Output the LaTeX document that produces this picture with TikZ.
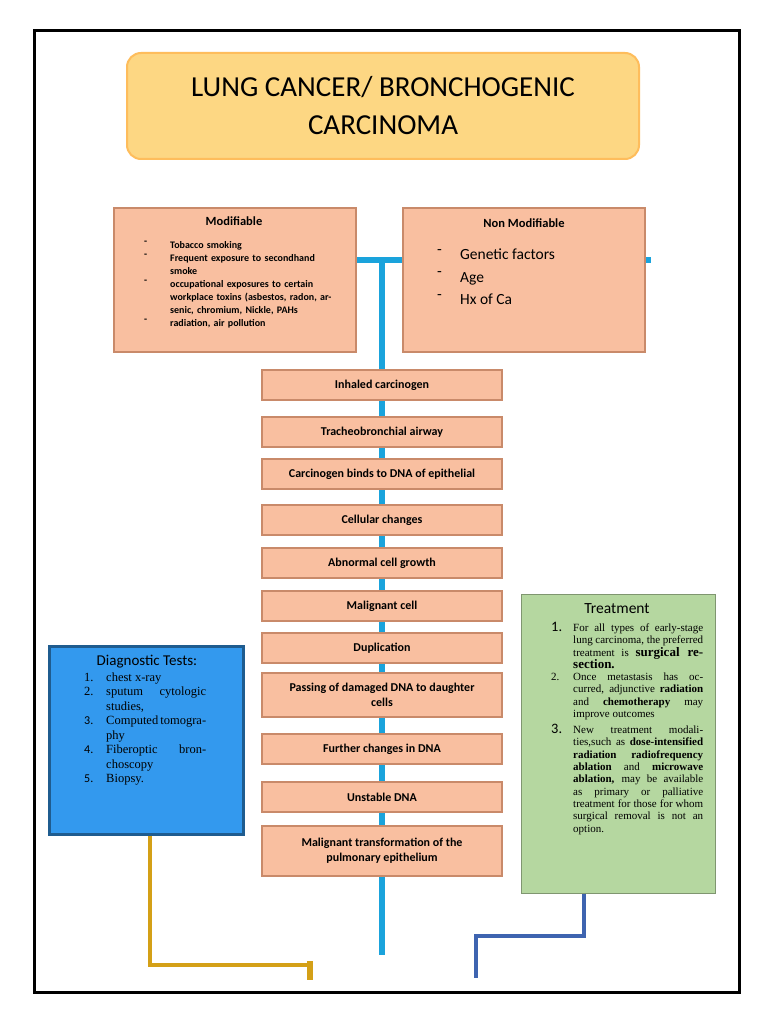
\documentclass[tikz,border=0pt]{standalone}
\usepackage{fontspec}
\setmainfont{Liberation Serif}
\newfontfamily\calfnt{Carlito}
\begin{document}
\begin{tikzpicture}[x=1pt,y=-1pt,
 chain/.style={draw=salmonD,line width=1.5pt,fill=salmon,minimum width=240pt,inner sep=2pt,align=center,font=\calfnt\bfseries\fontsize{12}{15}\selectfont},
 bigbox/.style={draw=salmonD,line width=2pt,fill=salmon},
 bline/.style={draw=lineblue,line width=6pt}]
\definecolor{salmon}{HTML}{F9BFA0}
\definecolor{salmonD}{HTML}{C98A6A}
\definecolor{lineblue}{HTML}{1AA3DC}
\definecolor{titlefill}{HTML}{FDD783}
\definecolor{diagblue}{HTML}{3399EE}
\definecolor{treatg}{HTML}{B5D7A0}
\definecolor{gold}{HTML}{D4A017}
\definecolor{dblue}{HTML}{3E64B0}
\useasboundingbox[fill=white] (0,0) rectangle (768,1024);
\draw[line width=3pt] (34,31) rectangle (739,992);
% spine lines
\coordinate (top) at (382,260);
\coordinate (bot) at (382,955);
\draw[bline] (356,260) -- (403,260);
\draw[bline] (645,260) -- (651,260);
\draw[bline] (top) -- (bot);
% title
\node[draw=titlefill!70!orange,line width=2pt,fill=titlefill,rounded corners=14pt,minimum width=512pt,minimum height=106pt,align=center,font=\calfnt\fontsize{29}{38}\selectfont] (title) at (383,106) {LUNG CANCER/ BRONCHOGENIC\\CARCINOMA};
% modifiable boxes
\node[bigbox,minimum width=242pt,minimum height=143pt] (mod) at (234.5,280) {};
\node[font=\calfnt\bfseries\fontsize{12.5}{14}\selectfont] (modt) at (234,221) {Modifiable};
\node[anchor=north west,align=left,font=\calfnt\bfseries\fontsize{10}{13}\selectfont,inner sep=0pt] (modl) at (144,241) {-\\-\\[13pt]-\\[26pt]-};
\node[anchor=north west,align=left,text width=170pt,font=\calfnt\bfseries\fontsize{10}{13}\selectfont,inner sep=0pt] (modx) at (170,241) {Tobacco smoking\\Frequent exposure to secondhand smoke\\occupational exposures to certain workplace toxins (asbestos, radon, arsenic, chromium, Nickle, PAHs\\radiation, air pollution};
\node[bigbox,minimum width=242pt,minimum height=143pt] (nmod) at (524,280) {};
\node[font=\calfnt\bfseries\fontsize{12.5}{14}\selectfont] (nmodt) at (524,223) {Non Modifiable};
\node[anchor=north west,align=left,font=\calfnt\fontsize{15.5}{22.5}\selectfont,inner sep=0pt] (nmodl) at (437,249) {-\\-\\-};
\node[anchor=north west,align=left,font=\calfnt\fontsize{15.5}{22.5}\selectfont,inner sep=0pt] (nmodx) at (460,249) {Genetic factors\\Age\\Hx of Ca};
% chain
\node[chain,minimum height=30pt] (c1) at (382,385) {Inhaled carcinogen};
\node[chain,minimum height=30pt] (c2) at (382,432) {Tracheobronchial airway};
\node[chain,minimum height=30pt] (c3) at (382,474) {Carcinogen binds to DNA of epithelial};
\node[chain,minimum height=30pt] (c4) at (382,520) {Cellular changes};
\node[chain,minimum height=30pt] (c5) at (382,563) {Abnormal cell growth};
\node[chain,minimum height=30pt] (c6) at (382,606) {Malignant cell};
\node[chain,minimum height=30pt] (c7) at (382,648) {Duplication};
\node[chain,minimum height=44pt] (c8) at (382,695) {Passing of damaged DNA to daughter\\cells};
\node[chain,minimum height=30pt] (c9) at (382,749) {Further changes in DNA};
\node[chain,minimum height=30pt] (c10) at (382,797) {Unstable DNA};
\node[chain,minimum height=50pt] (c11) at (382,851) {Malignant transformation of the\\pulmonary epithelium};
% diagnostic
\node[draw=diagblue!60!black,line width=3pt,fill=diagblue,minimum width=194pt,minimum height=188pt] (diag) at (146,740) {};
\node[font=\calfnt\fontsize{15}{17}\selectfont] (diagt) at (147,662) {Diagnostic Tests:};
\node[anchor=north west,align=left,font=\fontsize{12.5}{14.5}\selectfont,inner sep=0pt] (diagx) at (84,671)
{\begin{tabular}{@{}p{14pt}@{\hspace{8pt}}p{100pt}@{}}
1. & chest x-ray\\
2. & sputum cytologic studies,\\
{\calfnt\large 3.} & Computed tomography\\
{\calfnt\large 4.} & Fiberoptic bronchoscopy\\
{\calfnt\large 5.} & Biopsy.
\end{tabular}};
% treatment
\node[draw=treatg!70!black,line width=1pt,fill=treatg,minimum width=194pt,minimum height=299pt] (treat) at (618,743.5) {};
\node[font=\calfnt\fontsize{15.5}{17}\selectfont] (treatt) at (617,609) {Treatment};
\node[anchor=north west,align=left,font=\fontsize{11}{12.3}\selectfont,inner sep=0pt] (treatx) at (551,622)
{\begin{tabular}{@{}p{14pt}@{\hspace{8pt}}p{130pt}@{}}
{\calfnt\Large 1.} & For all types of early-stage lung carcinoma, the preferred treatment is {\fontsize{13}{15}\selectfont\bfseries surgical resection.}\\
2. & Once metastasis has occurred, adjunctive \textbf{radiation} and \textbf{chemotherapy} may improve outcomes\\[3pt]
{\calfnt\Large 3.} & New treatment modalities,such as \textbf{dose-intensified radiation radiofrequency ablation} and \textbf{microwave ablation,} may be available as primary or palliative treatment for those for whom surgical removal is not an option.
\end{tabular}};
% connectors
\coordinate (g1) at (150,965);
\coordinate (g2) at (310,965);
\coordinate (g3) at (310,980);
\draw[gold,line width=4pt] (diag.south -| g1) -- (g1) -- (g2);
\draw[gold,line width=6pt] (310,961) -- (g3);
\coordinate (b1) at (584,936);
\coordinate (b2) at (476,936);
\coordinate (b3) at (476,978);
\draw[dblue,line width=4pt] (treat.south -| b1) -- (b1) -- (b2) -- (b3);
\end{tikzpicture}
\end{document}
